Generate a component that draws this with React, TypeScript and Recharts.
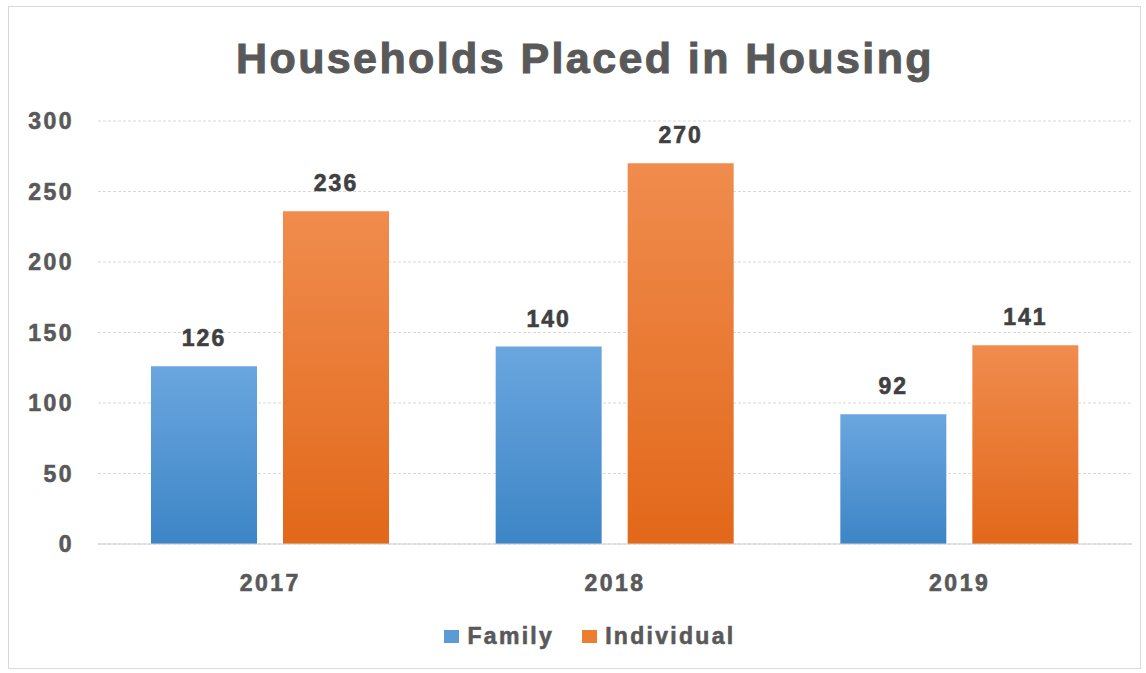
import React from 'react';
import { BarChart, Bar, XAxis, YAxis, CartesianGrid, Legend, LabelList } from 'recharts';

const years = ['2017', '2018', '2019'];
const familyValues = [126, 140, 92];
const individualValues = [236, 270, 141];
const yTicks = [0, 50, 100, 150, 200, 250, 300];

const seriesInfo = [
    { key: 'family', name: 'Family', color: '#5B9BD5' },
    { key: 'individual', name: 'Individual', color: '#ED7D31' },
];

const FONT = '"Liberation Sans", Arial, sans-serif';
const GREY = '#595959';

const LegendBox = () => (
    <div style={{ height: 34, display: 'flex', justifyContent: 'center', alignItems: 'center', fontFamily: FONT, paddingLeft: 48 }}>
        {seriesInfo.map((s, i) => (
            <div key={s.key} style={{ display: 'flex', alignItems: 'center', marginLeft: i ? 28 : 0 }}>
                <span style={{ width: 15, height: 13, background: s.color, display: 'inline-block', marginRight: 8 }} />
                <span style={{ fontSize: 23, fontWeight: 700, color: GREY, letterSpacing: 2.3, WebkitTextStroke: '0.6px #595959' }}>{s.name}</span>
            </div>
        ))}
    </div>
);

const tickStyle = { fill: GREY, fontSize: 23, fontWeight: 700, fontFamily: FONT, letterSpacing: 2.5, stroke: GREY, strokeWidth: 0.6 };
const labelStyle = { fill: '#404040', fontSize: 23, fontWeight: 700, fontFamily: FONT, letterSpacing: 2, stroke: '#404040', strokeWidth: 0.6 };

const App: React.FC = () => {
    const data = years.map((year, i) => ({
        year,
        family: familyValues[i],
        individual: individualValues[i],
    }));

    return (
        <div style={{ position: 'absolute', left: 0, top: 0, width: 1146, height: 673, background: '#fff' }}>
            <div style={{ position: 'absolute', left: 8, top: 6, width: 1131, height: 661, border: '1px solid #d9d9d9' }} />
            <div
                style={{
                    position: 'absolute', left: 0, width: 1170, top: 30, textAlign: 'center',
                    fontFamily: FONT, fontWeight: 700, fontSize: 43, letterSpacing: 2.4, color: GREY, lineHeight: '56px',
                    WebkitTextStroke: '1px #595959',
                }}
            >
                Households Placed in Housing
            </div>
            <BarChart
                width={1146}
                height={673}
                data={data}
                margin={{ top: 121, right: 14, left: 0, bottom: 20 }}
                barSize={106}
                barGap={26}
                style={{ position: 'absolute', left: 0, top: 0 }}
            >
                <defs>
                    <linearGradient id="gradFamily" x1="0" y1="0" x2="0" y2="1">
                        <stop offset="0%" stopColor="#6AA6DF" />
                        <stop offset="100%" stopColor="#3D85C6" />
                    </linearGradient>
                    <linearGradient id="gradIndividual" x1="0" y1="0" x2="0" y2="1">
                        <stop offset="0%" stopColor="#F08C4E" />
                        <stop offset="100%" stopColor="#E2681A" />
                    </linearGradient>
                </defs>
                <CartesianGrid vertical={false} stroke="#d9d9d9" strokeDasharray="3 2" />
                <XAxis
                    dataKey="year"
                    height={75}
                    axisLine={{ stroke: '#d0d0d0' }}
                    tickLine={false}
                    tickSize={0}
                    tickMargin={31}
                    tick={tickStyle}
                />
                <YAxis
                    width={98}
                    domain={[0, 300]}
                    ticks={yTicks}
                    axisLine={false}
                    tickLine={false}
                    tickSize={0}
                    tickMargin={24}
                    tick={tickStyle}
                />
                <Legend verticalAlign="bottom" content={<LegendBox />} />
                <Bar dataKey="family" name="Family" fill="url(#gradFamily)" isAnimationActive={false}>
                    <LabelList dataKey="family" position="top" offset={20} style={labelStyle} />
                </Bar>
                <Bar dataKey="individual" name="Individual" fill="url(#gradIndividual)" isAnimationActive={false}>
                    <LabelList dataKey="individual" position="top" offset={20} style={labelStyle} />
                </Bar>
            </BarChart>
        </div>
    );
};

export default App;
